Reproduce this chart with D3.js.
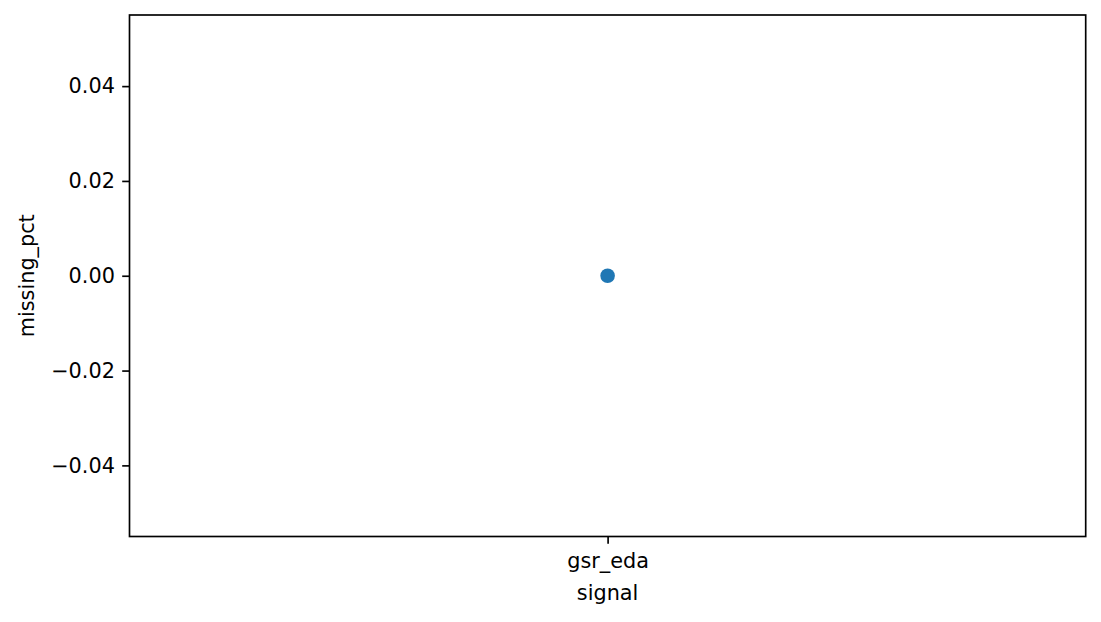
<!DOCTYPE html>
<html>
<head>
<meta charset="utf-8">
<script src="https://cdn.jsdelivr.net/npm/d3@7"></script>
<style>
  body { margin: 0; background: #fff; }
  svg { display: block; }
  text { font-family: "DejaVu Sans", sans-serif; fill: #000; }
</style>
</head>
<body>
<svg id="chart"></svg>
<script>
// data
const signals = ['gsr_eda'];
const missingPct = [0.0];
const yTicks = [-0.04, -0.02, 0.0, 0.02, 0.04];

const W = 1101, H = 622;
const margin = { top: 15, right: 15.3, bottom: 85.5, left: 129.5 };
const width = W - margin.left - margin.right;
const height = H - margin.top - margin.bottom;
const fontSize = 20.8;
const tickLen = 7.3;

const svg = d3.select('#chart')
    .attr('width', W)
    .attr('height', H)
    .append('g')
    .attr('transform', `translate(${margin.left},${margin.top})`);

const x = d3.scalePoint()
    .domain(signals)
    .range([0, width])
    .padding(0.5);

const y = d3.scaleLinear()
    .domain([-0.055, 0.055])
    .range([height, 0]);

const fmt = v => (v < 0 ? '\u2212' : '') + Math.abs(v).toFixed(2);

const yAxis = svg.append('g')
    .call(d3.axisLeft(y).tickValues(yTicks).tickFormat(fmt)
        .tickSize(tickLen).tickPadding(7.3));

const xAxis = svg.append('g')
    .attr('transform', `translate(0,${height})`)
    .call(d3.axisBottom(x).tickSize(tickLen).tickPadding(9.5));

[yAxis, xAxis].forEach(a => {
    a.select('.domain').remove();
    a.selectAll('.tick line').attr('stroke', '#000').attr('stroke-width', 1.67);
    a.selectAll('.tick text').attr('font-size', fontSize).attr('fill', '#000')
        .style('font-family', '"DejaVu Sans", sans-serif');
});

// frame
svg.append('rect')
    .attr('width', width)
    .attr('height', height)
    .attr('fill', 'none')
    .attr('stroke', '#000')
    .attr('stroke-width', 1.67);

svg.selectAll('circle.pt')
    .data(signals.map((s, i) => ({ s, v: missingPct[i] })))
    .enter().append('circle')
    .attr('class', 'pt')
    .attr('cx', d => x(d.s))
    .attr('cy', d => y(d.v))
    .attr('r', 7.3)
    .attr('fill', '#1f77b4');

svg.append('text')
    .attr('x', width / 2)
    .attr('y', height + 63)
    .attr('text-anchor', 'middle')
    .attr('font-size', fontSize)
    .text('signal');

svg.append('text')
    .attr('transform', `translate(${27 - margin.left + 7},${height / 2}) rotate(-90)`)
    .attr('text-anchor', 'middle')
    .attr('font-size', fontSize)
    .text('missing_pct');
</script>
</body>
</html>
